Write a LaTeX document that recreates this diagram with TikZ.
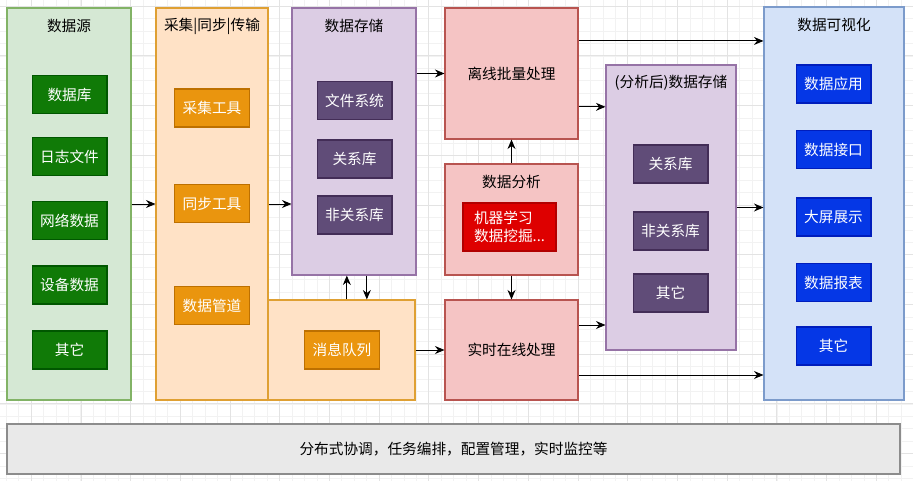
\documentclass[tikz,border=0pt]{standalone}
\usepackage{fontspec}
\setmainfont{Noto Sans CJK SC}
\usepackage{xcolor}
\usetikzlibrary{positioning,arrows.meta,fit}
\definecolor{srcfill}{HTML}{D5E8D4}
\definecolor{srcline}{HTML}{82B366}
\definecolor{grnfill}{HTML}{107A07}
\definecolor{grnline}{HTML}{005700}
\definecolor{orgfill}{HTML}{FFE2C6}
\definecolor{orgline}{HTML}{DFA033}
\definecolor{orgitem}{HTML}{EA950E}
\definecolor{orgedge}{HTML}{BD7000}
\definecolor{purfill}{HTML}{DCCDE4}
\definecolor{purline}{HTML}{9673A6}
\definecolor{puritem}{HTML}{604C78}
\definecolor{puredge}{HTML}{432D57}
\definecolor{redfill}{HTML}{F5C4C4}
\definecolor{redline}{HTML}{B85450}
\definecolor{reditem}{HTML}{DE0000}
\definecolor{rededge}{HTML}{B20000}
\definecolor{blufill}{HTML}{D4E2F8}
\definecolor{bluline}{HTML}{7C9BCB}
\definecolor{bluitem}{HTML}{0537E6}
\definecolor{bluedge}{HTML}{001DBC}
\definecolor{barfill}{HTML}{E9E9E9}
\definecolor{barline}{HTML}{8C8C8C}

\begin{document}
\begin{tikzpicture}[x=0.75pt,y=-0.75pt,
  font=\fontsize{11pt}{13.5pt}\selectfont,
  grp/.style 2 args={draw=#1,fill=#2,line width=0.8pt,inner sep=0pt},
  item/.style 2 args={draw=#1,fill=#2,text=white,line width=1pt,inner sep=0pt,
            minimum width=56pt,minimum height=28.5pt},
  minorgrid/.style={draw=black!5,line width=0.5pt},
  majorgrid/.style={draw=black!11,line width=0.6pt},
  a/.style={-{Stealth[length=2.5mm,width=2.1mm]},black,line width=0.75pt}]
\fill[white] (0,0) rectangle (913,481);
\useasboundingbox (0,0) rectangle (913,481);
% background grid
\foreach \i in {0,...,72} \draw[minorgrid] ({6.2+\i*12.43},0) -- ++(0,481);
\foreach \i in {0,...,38} \draw[minorgrid] (0,{6.2+\i*12.43}) -- ++(913,0);
\foreach \i in {0,...,17} \draw[majorgrid] ({31.2+\i*49.7},0) -- ++(0,481);
\foreach \i in {0,...,9} \draw[majorgrid] (0,{6.2+\i*49.7}) -- ++(913,0);

% data sources
\node[grp={srcline}{srcfill},fit={(7,8) (131,400)}] (src) {};
\node (srct) at (69,26) {数据源};
\node[item={grnline}{grnfill}] (db) at (69.5,94.5) {数据库};
\node[item={grnline}{grnfill}] (log) at (69.5,156.5) {日志文件};
\node[item={grnline}{grnfill}] (net) at (69.5,220.5) {网络数据};
\node[item={grnline}{grnfill}] (dev) at (69.5,285) {设备数据};
\node[item={grnline}{grnfill}] (oth) at (69.5,350) {其它};

% collection / sync / transfer
\node[grp={orgline}{orgfill},fit={(156,8) (268,400)}] (col) {};
\node (colt) at (212,26) {采集|同步|传输};
\node[item={orgedge}{orgitem}] (gather) at (212,108) {采集工具};
\node[item={orgedge}{orgitem}] (sync) at (212,203.5) {同步工具};
\node[item={orgedge}{orgitem}] (pipe) at (212,305.5) {数据管道};
\node[grp={orgline}{orgfill},fit={(268,300) (415,400)}] (mq) {};
\node[item={orgedge}{orgitem}] (queue) at (342,350) {消息队列};

% storage
\node[grp={purline}{purfill},fit={(292,8) (416,275)}] (sto) {};
\node (stot) at (354,26) {数据存储};
\node[item={puredge}{puritem}] (fs) at (354.5,100.5) {文件系统};
\node[item={puredge}{puritem}] (rdb) at (354.5,159) {关系库};
\node[item={puredge}{puritem}] (nosql) at (354.5,215) {非关系库};

% processing
\node[grp={redline}{redfill},fit={(445,8) (578,139)}] (off) {};
\node (offt) at (off) {离线批量处理};
\node[grp={redline}{redfill},fit={(445,164) (578,275)}] (ana) {};
\node (anat) at (511.5,182) {数据分析};
\node[item={rededge}{reditem},minimum width=69.75pt,minimum height=36pt,align=left] (ml)
  at (509.5,227) {机器学习\\数据挖掘...};
\node[grp={redline}{redfill},fit={(445,300) (578,400)}] (rt) {};
\node (rtt) at (rt) {实时在线处理};

% storage after analysis
\node[grp={purline}{purfill},fit={(606,65) (736,350)}] (aft) {};
\node (aftt) at (671,83) {(分析后)数据存储};
\node[item={puredge}{puritem}] (ardb) at (670.5,164) {关系库};
\node[item={puredge}{puritem}] (anosql) at (670.5,231) {非关系库};
\node[item={puredge}{puritem}] (aoth) at (670.5,293) {其它};

% visualisation
\node[grp={bluline}{blufill},fit={(764,7) (904,400)}] (vis) {};
\node (vist) at (834,25) {数据可视化};
\node[item={bluedge}{bluitem}] (app) at (833.5,84) {数据应用};
\node[item={bluedge}{bluitem}] (api) at (833.5,149.5) {数据接口};
\node[item={bluedge}{bluitem}] (screen) at (833.5,217) {大屏展示};
\node[item={bluedge}{bluitem}] (report) at (833.5,282.5) {数据报表};
\node[item={bluedge}{bluitem}] (voth) at (833.5,346) {其它};

% bottom bar
\node[grp={barline}{barfill},line width=1pt,fit={(7,424) (900,474)}] (bar) {};
\node (bart) at (bar) {分布式协调，任务编排，配置管理，实时监控等};

% connectors
\draw[a] (src) -- (col);
\draw[a] (col.east) -- (col.east -| sto.west);
\draw[a] (sto.east |- off) -- (off.west);
\draw[a] (ana) -- (off);
\draw[a] (ana) -- (rt);
\draw[a] ([xshift=4pt]mq.north) -- ([xshift=4pt]mq.north |- sto.south);
\draw[a] ([xshift=19pt]mq.north |- sto.south) -- ([xshift=19pt]mq.north);
\draw[a] (mq) -- (rt);
\draw[a] ([yshift=24.4pt]off.east) -- ([yshift=24.4pt]off.east -| vis.west);
\draw[a] ([yshift=-25pt]off.east) -- ([yshift=-25pt]off.east -| aft.west);
\draw[a] (aft.east) -- (aft.east -| vis.west);
\draw[a] ([yshift=18.75pt]rt.east) -- ([yshift=18.75pt]rt.east -| aft.west);
\draw[a] ([yshift=-18.75pt]rt.east) -- ([yshift=-18.75pt]rt.east -| vis.west);
\end{tikzpicture}
\end{document}
